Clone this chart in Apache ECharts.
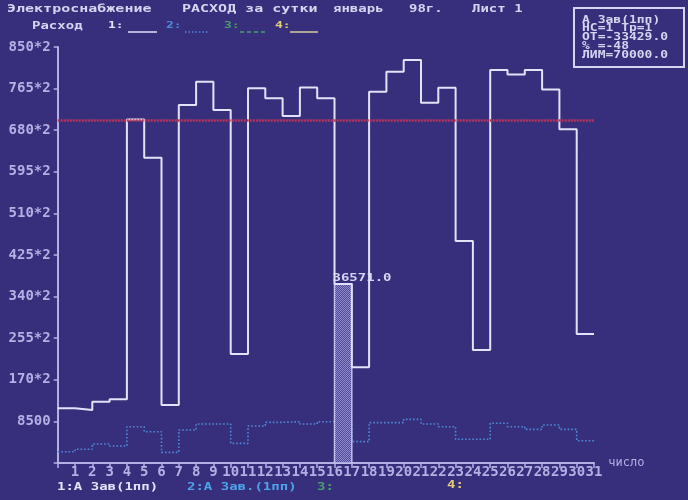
<!DOCTYPE html>
<html>
<head>
<meta charset="utf-8">
<script src="https://cdn.jsdelivr.net/npm/echarts@6/dist/echarts.min.js"></script>
<style>
html,body{margin:0;padding:0;background:#372f7c;}
#chart{width:688px;height:500px;}
</style>
</head>
<body>
<div id="chart"></div>
<script>
// ---- data ----
const days = [1,2,3,4,5,6,7,8,9,10,11,12,13,14,15,16,17,18,19,20,21,22,23,24,25,26,27,28,29,30,31];
const series1 = [11175,10828,12530,13010,70210,62380,11850,73140,77900,72120,22270,76550,74510,70890,76750,74510,36571,19550,75860,79940,82330,73610,76680,45350,23090,80290,79400,80290,76340,68170,26350];
const series2 = [2310,2800,3880,3470,7420,6400,2180,6740,7970,7970,4020,7560,8310,8440,7970,8440,8440,4360,8240,8240,8920,7970,7420,4840,4840,8110,7420,6880,7760,6880,4560];
const limitValue = 70000;
const selectedDay = 17;
const selectedValue = 36571;
const yTickLabels = ['', '8500', '170*2', '255*2', '340*2', '425*2', '510*2', '595*2', '680*2', '765*2', '850*2'];
const yStep = 8500;
const headerTexts = ['Электроснабжение', 'РАСХОД за сутки', 'январь', '98г.', 'Лист 1'];
const infoLines = ['А Зав(1пп)', 'НС=1 Тр=1', 'ОТ=-33429.0', '% =-48', 'ЛИМ=70000.0'];
const legendTop = ['1:', '2:', '3:', '4:'];
const legendBottom = ['1:А Зав(1пп)', '2:А Зав.(1пп)', '3:', '4:'];

// ---- styles ----
const BG = '#372f7c';
const FG = '#d6d4f0';
const AX = '#b4b0e4';
const C1 = '#e4e2f8';
const C2 = '#4d8ad8';
const C3 = '#4aa06a';
const C4 = '#e4cc72';
const MONO = '"DejaVu Sans Mono", "Liberation Mono", monospace';

function stepPoints(vals) {
  const pts = days.map((d, i) => [d - 1, vals[i]]);
  pts.push([days[days.length - 1], vals[vals.length - 1]]);
  return pts;
}

// hatch pattern
const pc = document.createElement('canvas');
pc.width = 2; pc.height = 2;
const pctx = pc.getContext('2d');
pctx.fillStyle = '#514b9a'; pctx.fillRect(0,0,2,2);
pctx.fillStyle = '#8e8acc'; pctx.fillRect(0,0,1,1); pctx.fillRect(1,1,1,1);

function txt(x, y, s, color, size, sy) {
  return {type:'text', x:x, y:y, scaleY: sy, z: 10,
    style:{text:s, fill:color, font:'bold ' + size + 'px ' + MONO, textVerticalAlign:'middle', textAlign:'left'}};
}
function seg(x1, x2, y, color, dash) {
  return {type:'line', shape:{x1:x1, y1:y, x2:x2, y2:y}, z: 10,
    style:{stroke:color, lineWidth:1.5, lineDash: dash || null}};
}

const chart = echarts.init(document.getElementById('chart'));
const graphic = [
  txt(7, 9, headerTexts[0], FG, 15, 0.72),
  txt(182, 9, headerTexts[1], FG, 15, 0.72),
  txt(333, 9, headerTexts[2], FG, 14, 0.72),
  txt(409, 9, headerTexts[3], FG, 14, 0.72),
  txt(472, 9, headerTexts[4], FG, 14, 0.72),
  txt(32, 26, 'Расход', FG, 14, 0.72),
  txt(108, 26, legendTop[0], C1, 13, 0.72),
  seg(128, 157, 32, C1),
  txt(166, 26, legendTop[1], C2, 13, 0.72),
  seg(185, 209, 32, C2, [1.5, 2]),
  txt(224, 26, legendTop[2], C3, 13, 0.72),
  seg(240, 265, 32, C3, [4, 3]),
  txt(275, 26, legendTop[3], C4, 13, 0.72),
  seg(290, 318, 32, '#d8cc98'),
  {type:'rect', shape:{x:574, y:8, width:110, height:59}, z:10,
   style:{fill:'none', stroke:FG, lineWidth:2}},
  txt(582, 20, infoLines[0], FG, 13, 0.75),
  txt(582, 28.5, infoLines[1], FG, 13, 0.75),
  txt(582, 37, infoLines[2], FG, 13, 0.75),
  txt(582, 46, infoLines[3], FG, 13, 0.75),
  txt(582, 55.5, infoLines[4], FG, 13, 0.75),
  txt(57, 487, legendBottom[0], C1, 14, 0.8),
  txt(187, 487, legendBottom[1], '#4ea2ea', 14, 0.8),
  txt(317, 487, legendBottom[2], C3, 14, 0.8),
  txt(447, 485, legendBottom[3], C4, 14, 0.8)
];

const option = {
  backgroundColor: BG,
  animation: false,
  grid: {left: 57.7, right: 94, top: 47, bottom: 37},
  xAxis: {
    type: 'value', min: 0, max: 31, interval: 1,
    name: 'число', nameLocation: 'end', nameGap: 11,
    nameTextStyle: {color: AX, fontFamily: MONO, fontSize: 12, verticalAlign: 'middle'},
    axisLine: {show: true, onZero: false, lineStyle: {color: AX, width: 2}},
    axisTick: {show: true, length: 5, lineStyle: {color: AX, width: 1.5}},
    axisLabel: {color: AX, fontFamily: MONO, fontWeight: 'bold', fontSize: 14, margin: 2,
      formatter: v => (v >= 1 && v <= days.length) ? String(days[v - 1]) : ''},
    splitLine: {show: false}
  },
  yAxis: {
    type: 'value', min: 0, max: yStep * (yTickLabels.length - 1), interval: yStep,
    axisLine: {show: true, lineStyle: {color: AX, width: 2}},
    axisTick: {show: true, length: 4, lineStyle: {color: AX, width: 1.5}},
    axisLabel: {color: AX, fontFamily: MONO, fontWeight: 'bold', fontSize: 14, margin: 7,
      formatter: v => yTickLabels[Math.round(v / yStep)] || ''},
    splitLine: {show: false}
  },
  graphic: graphic,
  series: [
    {
      type: 'line', name: '2', data: stepPoints(series2), step: 'end', symbol: 'none', z: 2,
      lineStyle: {color: C2, width: 1.6, type: [1.6, 2]}
    },
    {
      type: 'custom', name: 'sel', z: 3,
      data: [[selectedDay, selectedValue]],
      renderItem: function (params, api) {
        const p0 = api.coord([api.value(0) - 1, api.value(1)]);
        const p1 = api.coord([api.value(0), 0]);
        return {type: 'group', children: [
          {type: 'rect', shape: {x: p0[0], y: p0[1], width: p1[0] - p0[0], height: p1[1] - p0[1]},
           style: {fill: {image: pc, repeat: 'repeat'}, stroke: '#c4c0ec', lineWidth: 1.5}},
          {type: 'text', x: p0[0] - 2, y: p0[1] - 6, scaleY: 0.8,
           style: {text: api.value(1).toFixed(1), fill: FG, font: 'bold 14px ' + MONO,
                   textVerticalAlign: 'middle', textAlign: 'left'}}
        ]};
      }
    },
    {
      type: 'line', name: '1', data: stepPoints(series1), step: 'end', symbol: 'none', z: 4,
      lineStyle: {color: C1, width: 2},
      markLine: {
        silent: true, symbol: 'none', label: {show: false},
        lineStyle: {color: '#bc3458', width: 2.5, type: [2, 1]},
        data: [{yAxis: limitValue}]
      }
    }
  ]
};
chart.setOption(option);
</script>
</body>
</html>
